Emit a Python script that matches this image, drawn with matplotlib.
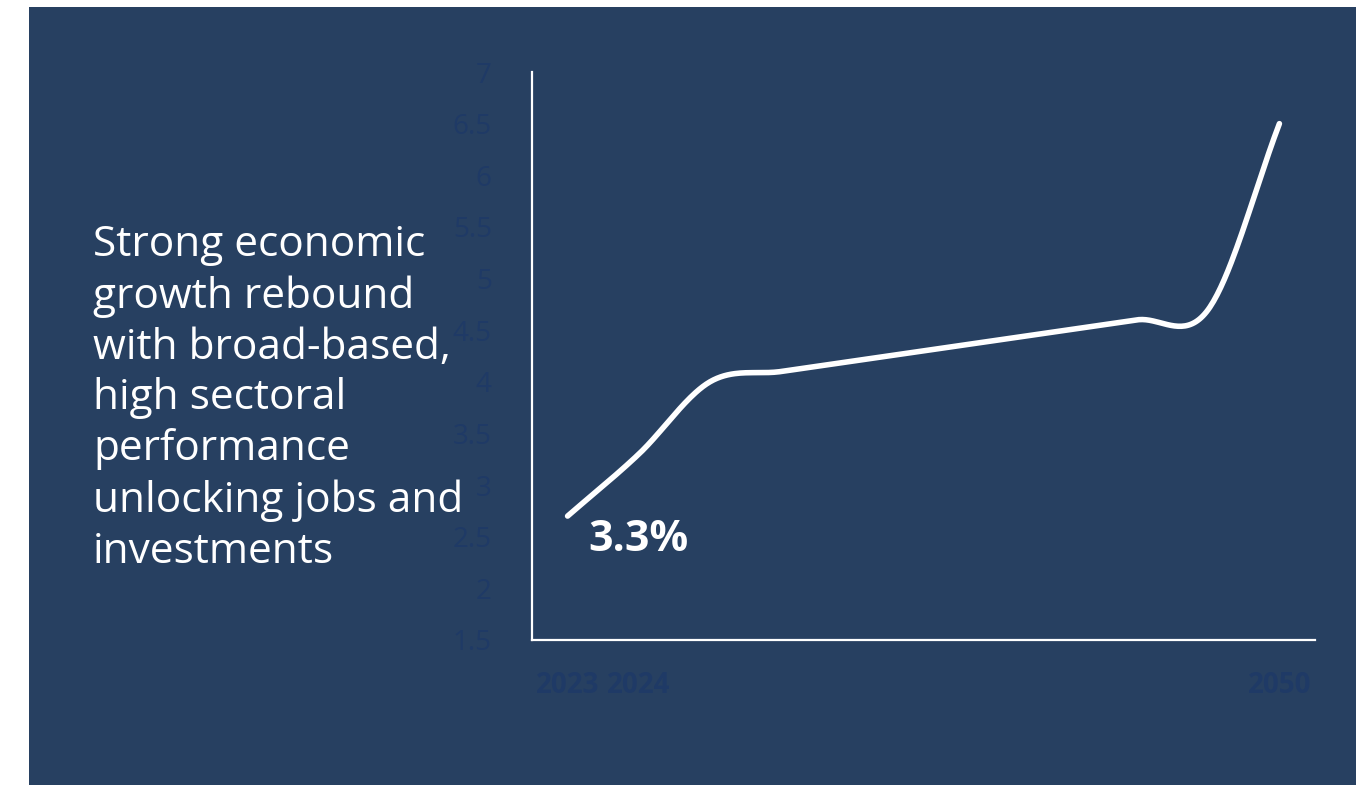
import numpy as np
import matplotlib
matplotlib.use("Agg")
import matplotlib.pyplot as plt
from matplotlib.patches import Rectangle

# ---- data ----
categories = ["2023", "2024", "", "", "", "", "", "", "", "", "2050"]
values = [2.7, 3.3, 4.0, 4.1, 4.2, 4.3, 4.4, 4.5, 4.6, 4.7, 6.5]
y_ticks = [1.5, 2, 2.5, 3, 3.5, 4, 4.5, 5, 5.5, 6, 6.5, 7]
y_tick_labels = ["1.5", "2", "2.5", "3", "3.5", "4", "4.5", "5", "5.5", "6", "6.5", "7"]
annotation = "3.3%"
headline = ("Strong economic\ngrowth rebound\nwith broad-based,\nhigh sectoral\n"
            "performance\nunlocking jobs and\ninvestments")

BG = "#274061"
TICK = "#1F3A66"
FONT = ["Open Sans", "DejaVu Sans"]
plt.rcParams["font.family"] = FONT

fig = plt.figure(figsize=(13.56, 7.85), dpi=100)
fig.patch.set_facecolor("white")
fig.add_artist(Rectangle((29 / 1356, 0), 1 - 29 / 1356, 1 - 7 / 785,
                         transform=fig.transFigure, facecolor=BG,
                         edgecolor="none", zorder=0))

ax = fig.add_axes([532 / 1356, 1 - 640 / 785, (1315 - 532) / 1356, (640 - 72) / 785])
ax.set_facecolor("none")

# smoothed line (Catmull-Rom through the data points, like a smoothed Excel line)
x = np.arange(len(values), dtype=float)
y = np.array(values, dtype=float)
xs, ys = [], []
for i in range(len(y) - 1):
    p0 = y[i - 1] if i > 0 else y[i]
    p1, p2 = y[i], y[i + 1]
    p3 = y[i + 2] if i + 2 < len(y) else y[i + 1]
    m1 = (p2 - p0) / (2 if i > 0 else 1)
    m2 = (p3 - p1) / (2 if i + 2 < len(y) else 1)
    t = np.linspace(0, 1, 40, endpoint=False)
    h00 = 2 * t**3 - 3 * t**2 + 1
    h10 = t**3 - 2 * t**2 + t
    h01 = -2 * t**3 + 3 * t**2
    h11 = t**3 - t**2
    xs.append(x[i] + t)
    ys.append(h00 * p1 + h10 * m1 + h01 * p2 + h11 * m2)
xs.append([x[-1]])
ys.append([y[-1]])
ax.plot(np.concatenate(xs), np.concatenate(ys), color="white", lw=4.0,
        solid_capstyle="round", solid_joinstyle="round")

ax.set_xlim(-0.5, len(values) - 0.5)
ax.set_ylim(1.5, 7)
ax.set_xticks(x)
ax.set_xticklabels(categories, fontsize=20, fontweight="bold", color=TICK)
ax.set_yticks(y_ticks)
ax.set_yticklabels(y_tick_labels, fontsize=20, color=TICK)
ax.tick_params(axis="both", length=0)
ax.tick_params(axis="y", pad=29)
ax.tick_params(axis="x", pad=22)

for s in ["top", "right"]:
    ax.spines[s].set_visible(False)
for s in ["left", "bottom"]:
    ax.spines[s].set_color("white")
    ax.spines[s].set_linewidth(1.6)

ax.text(1, 2.47, annotation, ha="center", va="center", color="white",
        fontsize=31, fontweight="bold")

fig.text(93 / 1356, 1 - 563 / 785, headline, ha="left", va="baseline",
         color="white", fontsize=30.5, linespacing=1.28)

fig.savefig("out.png", dpi=100, facecolor=fig.get_facecolor())
